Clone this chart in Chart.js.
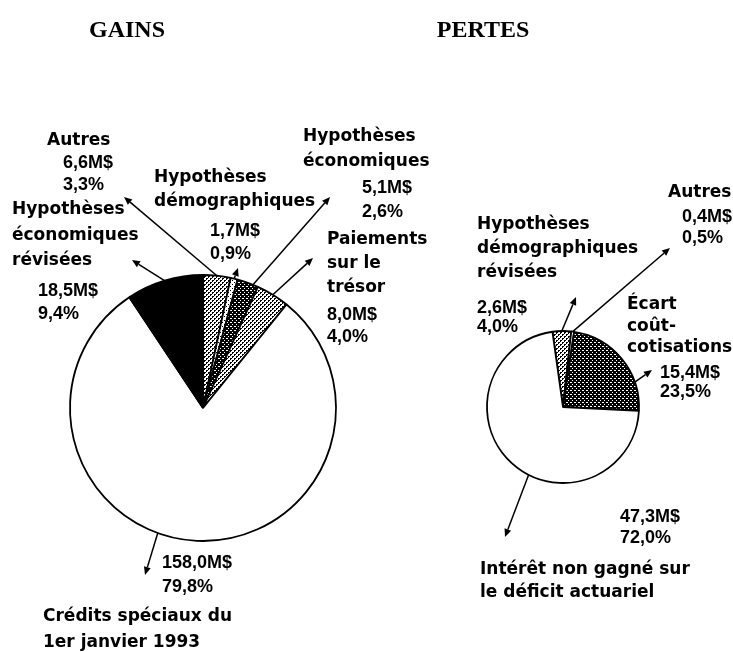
<!DOCTYPE html>
<html>
<head>
<meta charset="utf-8">
<script src="https://cdn.jsdelivr.net/npm/chart.js@4.4.1/dist/chart.umd.min.js"></script>
<style>
  html, body { margin: 0; padding: 0; background: #fff; }
  #wrap { position: relative; width: 733px; height: 652px; }
  #wrap canvas { position: absolute; left: 0; top: 0; }
</style>
</head>
<body>
<div id="wrap">
  <canvas id="gains" width="733" height="652"></canvas>
  <canvas id="pertes" width="733" height="652"></canvas>
</div>
<script>
// GAINS (slices clockwise from 12 o'clock)
const gainCategories = ['Autres', 'Hypothèses\ndémographiques', 'Hypothèses\néconomiques',
  'Paiements\nsur le\ntrésor', 'Crédits spéciaux du\n1er janvier 1993', 'Hypothèses\néconomiques\nrévisées'];
const gainAmounts = [6.6, 1.7, 5.1, 8.0, 158.0, 18.5];   // M$
const gainPercents = [3.3, 0.9, 2.6, 4.0, 79.8, 9.4];

// PERTES
const lossCategories = ['Hypothèses\ndémographiques\nrévisées', 'Autres', 'Écart\ncoût-\ncotisations',
  'Intérêt non gagné sur\nle déficit actuariel'];
const lossAmounts = [2.6, 0.4, 15.4, 47.3];   // M$
const lossPercents = [4.0, 0.5, 23.5, 72.0];

// halftone fills like the printed original
function dots(bg, fg, pts) {
  const c = document.createElement('canvas');
  c.width = 4; c.height = 4;
  const g = c.getContext('2d');
  g.fillStyle = bg; g.fillRect(0, 0, 4, 4);
  g.fillStyle = fg;
  pts.forEach(([x, y]) => g.fillRect(x, y, 1, 1));
  return g.createPattern(c, 'repeat');
}
const light = dots('#fff', '#000', [[0, 0], [1, 0], [0, 1], [2, 2], [3, 2], [2, 3]]);
const paler = dots('#fff', '#000', [[0, 0], [2, 2]]);
const dark = dots('#000', '#fff', [[0, 0], [2, 2], [3, 2]]);

// where each label sits: name block, value block (left x, first line y), line heights, arrow tip,
// and how far along the slice the arrow leaves the rim
const gainCallouts = [
  { name: [47, 141], value: [63, 163], lh: [24, 22], tip: [124, 197], at: 0.5 },
  { name: [154, 178], value: [210, 231], lh: [24, 23], tip: [238, 268], at: 0.5 },
  { name: [303, 137], value: [362, 188], lh: [25, 24], tip: [330, 197], at: 0.75 },
  { name: [327, 240], value: [327, 315], lh: [24, 22], tip: [313, 258], at: 0.5 },
  { name: [43, 617], value: [162, 563], lh: [26, 24], tip: [145, 575], at: 0.56 },
  { name: [12, 210], value: [38, 291], lh: [25.5, 23], tip: [132, 260], at: 0.5 }
];
const lossCallouts = [
  { name: [477, 225], value: [477, 308], lh: [24, 19], tip: [576, 297], at: 0.5 },
  { name: [668, 193], value: [682, 217], lh: [22, 21], tip: [670, 248], at: 0.5 },
  { name: [627, 305], value: [660, 373], lh: [21.5, 19], tip: [652, 370], at: 0.74 },
  { name: [480, 570], value: [620, 517], lh: [23, 21], tip: [505, 537], at: 0.44 }
];

const fmt = v => v.toFixed(1).replace('.', ',');

const calloutPlugin = {
  id: 'callouts',
  afterDraw(chart, args, opts) {
    const ctx = chart.ctx;
    const arcs = chart.getDatasetMeta(0).data;
    ctx.save();
    ctx.fillStyle = '#000';
    ctx.strokeStyle = '#000';
    ctx.font = 'bold 24px "Liberation Serif"';
    ctx.textAlign = 'center';
    ctx.textBaseline = 'alphabetic';
    ctx.fillText(opts.title, opts.titleX, 37);

    ctx.textAlign = 'left';
    ctx.textBaseline = 'middle';
    ctx.lineWidth = 1.5;
    opts.callouts.forEach((c, i) => {
      const arc = arcs[i];
      const a = arc.startAngle + (arc.endAngle - arc.startAngle) * c.at;
      const sx = arc.x + Math.cos(a) * arc.outerRadius;
      const sy = arc.y + Math.sin(a) * arc.outerRadius;
      const [tx, ty] = c.tip;
      const ang = Math.atan2(ty - sy, tx - sx);
      const hl = 8, hw = 3.5;
      const bx = tx - Math.cos(ang) * hl, by = ty - Math.sin(ang) * hl;
      ctx.beginPath();
      ctx.moveTo(sx, sy);
      ctx.lineTo(bx, by);
      ctx.stroke();
      ctx.beginPath();
      ctx.moveTo(tx, ty);
      ctx.lineTo(bx + Math.sin(ang) * hw, by - Math.cos(ang) * hw);
      ctx.lineTo(bx - Math.sin(ang) * hw, by + Math.cos(ang) * hw);
      ctx.closePath();
      ctx.fill();

      ctx.font = 'bold 17px "DejaVu Sans"';
      opts.categories[i].split('\n').forEach((line, k) =>
        ctx.fillText(line, c.name[0], c.name[1] + k * c.lh[0]));
      ctx.font = 'bold 18px "Liberation Sans"';
      [fmt(opts.amounts[i]) + 'M$', fmt(opts.percents[i]) + '%'].forEach((line, k) =>
        ctx.fillText(line, c.value[0], c.value[1] + k * c.lh[1]));
    });
    ctx.restore();
  }
};

function makePie(id, categories, amounts, percents, colors, callouts, title, titleX, rotation, radius, padding) {
  return new Chart(document.getElementById(id), {
    type: 'pie',
    data: {
      labels: categories,
      datasets: [{
        data: amounts,
        backgroundColor: colors,
        borderColor: '#000',
        borderWidth: 1.8
      }]
    },
    options: {
      responsive: false,
      animation: false,
      devicePixelRatio: 1,
      rotation: rotation,
      radius: radius,
      layout: { padding: padding },
      events: [],
      plugins: {
        legend: { display: false },
        tooltip: { enabled: false },
        callouts: { categories, amounts, percents, callouts, title, titleX }
      }
    },
    plugins: [calloutPlugin]
  });
}

makePie('gains', gainCategories, gainAmounts, gainPercents,
  [light, paler, dark, light, '#fff', '#000'],
  gainCallouts, 'GAINS', 127, 0, 133,
  { left: 63, right: 390, top: 268, bottom: 104 });

makePie('pertes', lossCategories, lossAmounts, lossPercents,
  [light, '#fff', dark, '#fff'],
  lossCallouts, 'PERTES', 483, -8, 76,
  { left: 483, right: 90, top: 327, bottom: 165 });
</script>
</body>
</html>
